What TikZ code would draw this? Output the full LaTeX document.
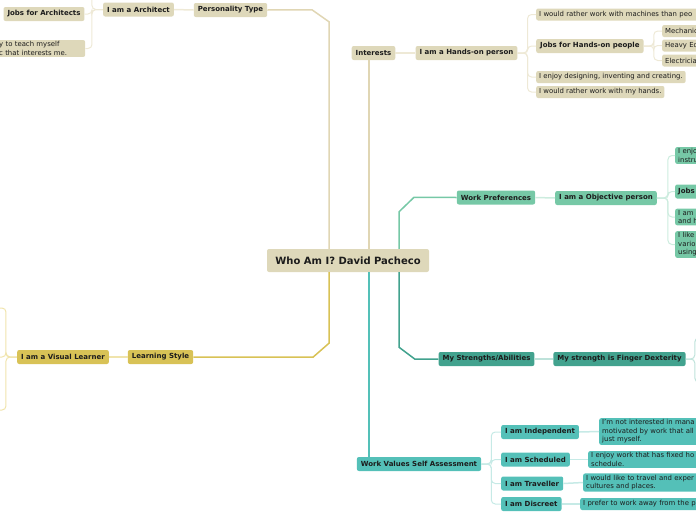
\documentclass[tikz,border=0pt]{standalone}
\usepackage{fontspec}
\setmainfont{DejaVu Sans}
\usetikzlibrary{positioning}
\definecolor{tanfill}{RGB}{222,216,186}
\definecolor{tanline}{RGB}{224,214,180}
\definecolor{tanpale}{RGB}{238,233,214}
\definecolor{grnfill}{RGB}{118,200,166}
\definecolor{grnpale}{RGB}{204,236,222}
\definecolor{seafill}{RGB}{66,162,142}
\definecolor{seapale}{RGB}{190,226,218}
\definecolor{aquafill}{RGB}{84,192,184}
\definecolor{aquapale}{RGB}{198,234,230}
\definecolor{goldfill}{RGB}{216,194,86}
\definecolor{goldpale}{RGB}{240,228,172}
\definecolor{inkgray}{RGB}{28,28,28}
\tikzset{
  box/.style  ={rectangle, rounded corners=2pt, inner xsep=4pt, inner ysep=1.5pt,
                minimum height=14pt, text=inkgray},
  lbl/.style  ={box, font=\fontsize{7}{8.5}\selectfont\bfseries},
  txt/.style  ={box, font=\fontsize{6.9}{8.5}\selectfont, align=left, anchor=west,
                inner xsep=3pt, minimum height=12pt},
  root/.style ={box, fill=tanfill, font=\fontsize{10}{12}\selectfont\bfseries,
                minimum width=162pt, minimum height=23pt},
  tanb/.style ={fill=tanfill},
  grnb/.style ={fill=grnfill},
  seab/.style ={fill=seafill},
  aquab/.style={fill=aquafill},
  goldb/.style={fill=goldfill},
  trunk/.style={line width=1.5pt},
  link/.style ={line width=1.5pt},
  twig/.style ={line width=1pt, rounded corners=4pt},
}
\begin{document}
\begin{tikzpicture}[x=1pt, y=-1pt]
\clip (0,0) rectangle (696,520);
\node[root] (who) at (348,260.5) {Who Am I? David Pacheco};
\node[lbl, tanb] (pers) at (230.5,10) {Personality Type};
\node[lbl, tanb] (intr) at (373.5,53) {Interests};
\node[lbl, grnb] (wpref) at (496,197.5) {Work Preferences};
\node[lbl, seab] (str) at (486.5,359) {My Strengths/Abilities};
\node[lbl, aquab] (wval) at (419,464) {Work Values Self Assessment};
\node[lbl, goldb] (lrn) at (160.5,357) {Learning Style};
\node[lbl, tanb] (arch) at (138.5,9.5) {I am a Architect};
\node[lbl, tanb] (hand) at (466.5,53) {I am a Hands-on person};
\node[lbl, grnb] (obj) at (606,198) {I am a Objective person};
\node[lbl, seab] (fing) at (619.5,359) {My strength is Finger Dexterity};
\node[lbl, goldb] (vis) at (63,357) {I am a Visual Learner};
\node[lbl, aquab, anchor=west] (ind) at (501,432) {I am Independent};
\node[lbl, aquab, anchor=west] (sch) at (501,459.5) {I am Scheduled};
\node[lbl, aquab, anchor=west] (trv) at (501,483.5) {I am Traveller};
\node[lbl, aquab, anchor=west] (dsc) at (501,504) {I am Discreet};
\node[lbl, tanb] (ar1) at (44,14) {Jobs for Architects};
\node[txt, tanb, text width=83pt] (ar2) at (-4,48.5) {y to teach myself\\c that interests me.};
\coordinate (ar0) at (80,-12);
\node[txt, tanb, text width=170pt] (hd1) at (536,14.5) {I would rather work with machines than peo};
\node[lbl, tanb, anchor=west] (hd2) at (536,46) {Jobs for Hands-on people};
\node[txt, tanb] (hd3) at (536,77) {I enjoy designing, inventing and creating.};
\node[txt, tanb] (hd4) at (536,92) {I would rather work with my hands.};
\node[txt, tanb, text width=50pt] (jb1) at (662,31) {Mechanic};
\node[txt, tanb, text width=50pt] (jb2) at (662,45.5) {Heavy Eq};
\node[txt, tanb, text width=50pt] (jb3) at (662,60.5) {Electricia};
\node[txt, grnb, text width=40pt] (ob1) at (675,155.5) {I enjo\\instru};
\node[lbl, grnb, anchor=west, text width=40pt, align=left, inner xsep=3pt] (ob2) at (675,191.5) {Jobs};
\node[txt, grnb, text width=40pt] (ob3) at (675,217) {I am\\and h};
\node[txt, grnb, text width=40pt] (ob4) at (675,244.5) {I like\\vario\\using};
\coordinate (dx1) at (706,338);
\coordinate (dx2) at (706,382);
\coordinate (vl1) at (-10,308);
\coordinate (vl2) at (-10,357);
\coordinate (vl3) at (-10,410);
\node[txt, aquab, text width=120pt] (wv1) at (599,431.5) {I'm not interested in mana\\motivated by work that all\\just myself.};
\node[txt, aquab, text width=130pt] (wv2) at (588,459.5) {I enjoy work that has fixed ho\\schedule.};
\node[txt, aquab, text width=130pt] (wv3) at (583,482.5) {I would like to travel and exper\\cultures and places.};
\node[txt, aquab, text width=130pt] (wv4) at (580,504) {I prefer to work away from the p};
\draw[trunk, tanline] ([xshift=-19pt]who.north) -- ++(0,-227) -- ++(-17,-12) -- (pers.east);
\draw[trunk, tanline] ([xshift=21pt]who.north) -- ([xshift=21pt]who.north |- intr.south);
\draw[trunk, grnfill] ([xshift=51pt]who.north) -- ++(0,-37) -- ++(15,-14.5) -- (wpref.west);
\draw[trunk, seafill] ([xshift=51pt]who.south) -- ++(0,75) -- ++(16,12) -- (str.west);
\draw[trunk, aquafill] ([xshift=21pt]who.south) -- ([xshift=21pt]who.south |- wval.north);
\draw[trunk, goldfill] ([xshift=-19pt]who.south) -- ++(0,71) -- ++(-16,14) -- (lrn.east);
\draw[link, tanpale] (pers.west) -- (arch.east);
\draw[link, tanpale] (intr.east) -- (hand.west);
\draw[link, grnpale] (wpref.east) -- (obj.west);
\draw[link, seapale] (str.east) -- (fing.west);
\draw[link, goldpale] (lrn.west) -- (vis.east);
\foreach \c in {ar0,ar1,ar2} \draw[twig, tanpale] (arch.west) -- ++(-11,0) |- (\c.east);
\foreach \c in {hd1,hd2,hd3,hd4} \draw[twig, tanpale] (hand.east) -- ++(10,0) |- (\c.west);
\foreach \c in {jb1,jb2,jb3} \draw[twig, tanpale] (hd2.east) -- ++(10,0) |- (\c.west);
\foreach \c in {ob1,ob2,ob3,ob4} \draw[twig, grnpale] (obj.east) -- ++(11,0) |- (\c.west);
\foreach \c in {dx1,dx2} \draw[twig, seapale] (fing.east) -- ++(9,0) |- (\c);
\foreach \c in {vl1,vl2,vl3} \draw[twig, goldpale] (vis.west) -- ++(-11,0) |- (\c);
\foreach \c in {ind,sch,trv,dsc} \draw[twig, aquapale] (wval.east) -- ++(10,0) |- (\c.west);
\draw[link, aquapale] (ind.east) -- (wv1.west);
\draw[link, aquapale] (sch.east) -- (wv2.west);
\draw[link, aquapale] (trv.east) -- (wv3.west);
\draw[link, aquapale] (dsc.east) -- (wv4.west);
\end{tikzpicture}
\end{document}
